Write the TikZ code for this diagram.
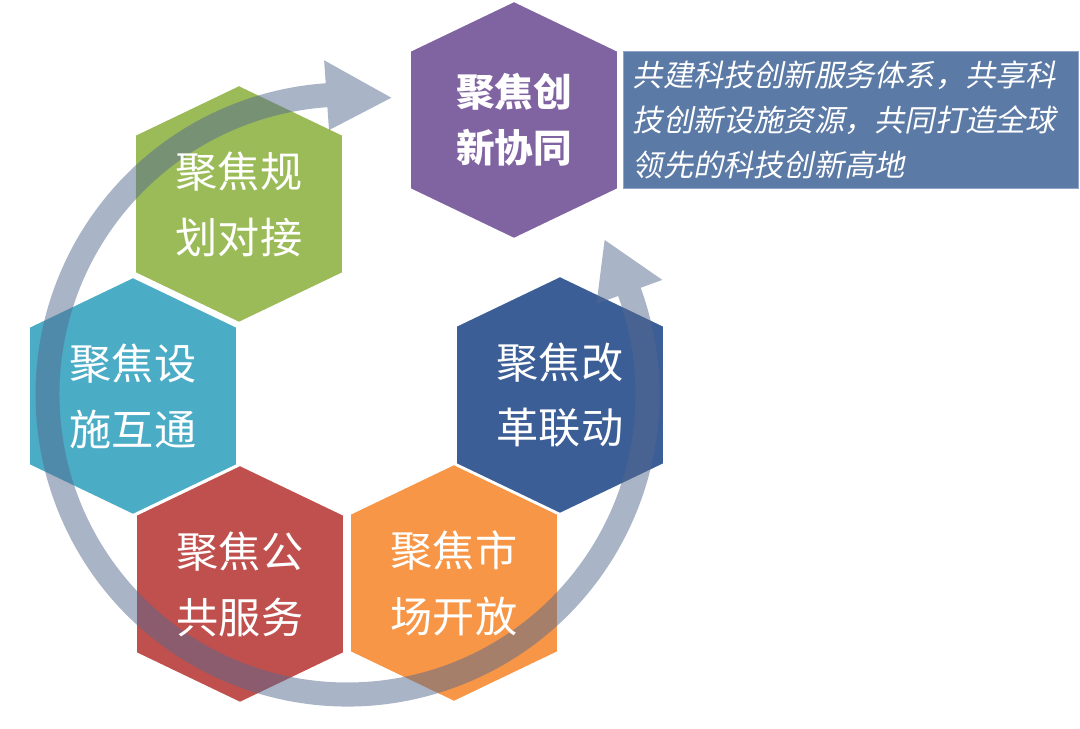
\documentclass[tikz,border=0pt]{standalone}
\usepackage{fontspec}
\usepackage{tikz}
\usetikzlibrary{positioning, backgrounds}
\newfontfamily\cjkfont{Noto Sans CJK SC}
\newfontfamily\cjkslant[FakeSlant=0.2]{Noto Sans CJK SC}

\definecolor{hexgreen}{HTML}{9BBB59}
\definecolor{hexteal}{HTML}{4BACC6}
\definecolor{hexred}{HTML}{C0504D}
\definecolor{hexorange}{HTML}{F79646}
\definecolor{hexnavy}{HTML}{3B5E96}
\definecolor{hexpurple}{HTML}{8064A2}
\definecolor{descblue}{HTML}{5C7AA6}
\definecolor{descedge}{HTML}{8FA4C6}
\definecolor{ringblue}{HTML}{55698F}

\tikzstyle{hexbox} = [rectangle, minimum width=4.16cm, minimum height=4.76cm, inner sep=0pt, align=center, text=white, font=\cjkfont\fontsize{24}{37.5}\selectfont]
\tikzstyle{hexedge} = [draw=white, line width=1.5pt]
\tikzstyle{desc} = [rectangle, minimum height=2.64cm, text width=8.74cm, inner sep=0.18cm, align=left, text=white, fill=descblue, draw=descedge, line width=0.6pt, font=\cjkslant\fontsize{17.2}{25.6}\selectfont]
\tikzstyle{ring} = [fill=ringblue, fill opacity=0.5]

% hexagon around a hexbox node, shoulders 1cm deep
\newcommand{\hexfill}[2]{%
  \filldraw[hexedge, fill=#2] (#1.north) -- ([yshift=-1cm]#1.north west) -- ([yshift=1cm]#1.south west) -- (#1.south) -- ([yshift=1cm]#1.south east) -- ([yshift=-1cm]#1.north east) -- cycle;}

\begin{document}
\begin{tikzpicture}[x=0.02cm, y=0.02cm]
\useasboundingbox (0,0) rectangle (1080,729);

% Hexagons
\node (plan) [hexbox] at (239,525) {聚焦规\\划对接};
\node (infra) [hexbox] at (133,333) {聚焦设\\施互通};
\node (public) [hexbox] at (240,145) {聚焦公\\共服务};
\node (market) [hexbox] at (454,146) {聚焦市\\场开放};
\node (reform) [hexbox] at (560,334) {聚焦改\\革联动};
\node (innov) [hexbox, font=\cjkfont\bfseries\fontsize{22}{32}\selectfont] at (514,609) {聚焦创\\新协同};

% Description
\node (desc) [desc, right=0.1cm of innov] {共建科技创新服务体系，共享科\\技创新设施资源，共同打造全球\\领先的科技创新高地};

% Fills
\begin{scope}[on background layer]
\hexfill{plan}{hexgreen}
\hexfill{infra}{hexteal}
\hexfill{public}{hexred}
\hexfill{market}{hexorange}
\hexfill{reform}{hexnavy}
\hexfill{innov}{hexpurple}
\end{scope}

% Cycle arrow
\coordinate (hub) at (347.5,334.5);
\begin{scope}[on background layer, shift={(hub)}]
\fill[ring] (94:312) -- (94:335) -- (81.6:300) -- (94:265) -- (94:288)
  arc[start angle=94, end angle=380, radius=288] -- (380:265) -- (391:300) -- (380:335) -- (380:312)
  arc[start angle=380, end angle=94, radius=312] -- cycle;
\end{scope}

\end{tikzpicture}
\end{document}
